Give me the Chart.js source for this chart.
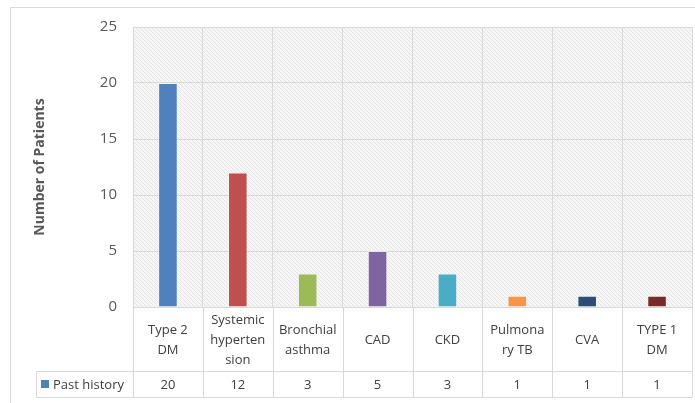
<!DOCTYPE html>
<html>
<head>
<meta charset="utf-8">
<script src="https://cdn.jsdelivr.net/npm/chart.js@4/dist/chart.umd.min.js"></script>
<style>
  html, body { margin: 0; padding: 0; background: #ffffff; }
  #wrap { width: 695px; height: 403px; position: relative; }
</style>
</head>
<body>
<div id="wrap"><canvas id="c" width="695" height="403"></canvas></div>
<script>
// ---- data ----
const categories = [
  ["Type 2", "DM"],
  ["Systemic", "hyperten", "sion"],
  ["Bronchial", "asthma"],
  ["CAD"],
  ["CKD"],
  ["Pulmona", "ry TB"],
  ["CVA"],
  ["TYPE 1", "DM"]
];
const seriesName = "Past history";
const pastHistory = [20, 12, 3, 5, 3, 1, 1, 1];
const barColors = ["#4F81BD", "#C0504D", "#9BBB59", "#8064A2", "#4BACC6", "#F79646", "#2C4D75", "#772C2A"];
const yTicks = [0, 5, 10, 15, 20, 25];
const yTitle = "Number of Patients";

const FONT = "'Open Sans', 'Noto Sans', sans-serif";
const GRID = "#d9d9d9";

function makeHatch() {
  const p = document.createElement('canvas');
  p.width = 4; p.height = 4;
  const g = p.getContext('2d');
  g.fillStyle = '#f6f6f6';
  g.fillRect(0, 0, 4, 4);
  g.strokeStyle = '#e4e4e4';
  g.lineWidth = 1;
  g.beginPath();
  g.moveTo(0, 0); g.lineTo(4, 4);
  g.moveTo(-1, 3); g.lineTo(1, 5);
  g.moveTo(3, -1); g.lineTo(5, 1);
  g.stroke();
  return g.createPattern(p, 'repeat');
}

const framePlugin = {
  id: 'frame',
  beforeDraw(chart) {
    const ctx = chart.ctx;
    const a = chart.chartArea;
    ctx.save();
    ctx.fillStyle = '#ffffff';
    ctx.fillRect(0, 0, chart.width, chart.height);
    ctx.strokeStyle = '#d9d9d9';
    ctx.lineWidth = 1;
    ctx.beginPath();
    ctx.moveTo(10.5, chart.height);
    ctx.lineTo(10.5, 7.5);
    ctx.lineTo(chart.width, 7.5);
    ctx.stroke();
    ctx.fillStyle = makeHatch();
    ctx.fillRect(a.left, a.top, a.right - a.left, a.bottom - a.top);
    ctx.restore();
  },
  afterDraw(chart) {
    const ctx = chart.ctx;
    const a = chart.chartArea;
    const xs = chart.scales.x;
    const n = categories.length;
    const step = (a.right - a.left) / n;
    const bounds = [];
    for (let i = 0; i <= n; i++) bounds.push(Math.round(a.left + i * step) + 0.5);
    const rowTop = 371.5, rowBot = 397.5, legLeft = 36.5;
    ctx.save();
    ctx.strokeStyle = GRID;
    ctx.lineWidth = 1;
    ctx.beginPath();
    bounds.forEach(x => { ctx.moveTo(x, a.bottom); ctx.lineTo(x, rowBot); });
    ctx.moveTo(a.left, a.bottom + 0.5); ctx.lineTo(a.right, a.bottom + 0.5);
    ctx.moveTo(legLeft, rowTop); ctx.lineTo(a.right, rowTop);
    ctx.moveTo(legLeft, rowBot); ctx.lineTo(a.right, rowBot);
    ctx.moveTo(legLeft, rowTop); ctx.lineTo(legLeft, rowBot);
    ctx.stroke();

    ctx.fillStyle = '#404040';
    ctx.font = "13px " + FONT;
    ctx.textAlign = 'center';
    ctx.textBaseline = 'middle';
    const lh = 20;
    const midY = (a.bottom + rowTop) / 2 + 1;
    categories.forEach((lines, i) => {
      const cx = xs.getPixelForValue(i);
      const y0 = midY - (lines.length - 1) * lh / 2;
      lines.forEach((t, k) => ctx.fillText(t, cx, y0 + k * lh));
    });
    const vy = (rowTop + rowBot) / 2 + 1;
    pastHistory.forEach((v, i) => {
      ctx.fillText(String(v), xs.getPixelForValue(i), vy);
    });
    ctx.fillStyle = barColors[0];
    ctx.fillRect(41, 380, 8, 8);
    ctx.fillStyle = '#404040';
    ctx.textAlign = 'left';
    ctx.fillText(seriesName, 53, vy);
    ctx.restore();
  }
};

new Chart(document.getElementById('c'), {
  type: 'bar',
  data: {
    labels: categories.map(l => l.join(' ')),
    datasets: [{
      label: seriesName,
      data: pastHistory,
      backgroundColor: barColors,
      borderColor: 'rgba(255,255,255,0.35)',
      borderWidth: 1,
      categoryPercentage: 1.0,
      barPercentage: 0.28
    }]
  },
  options: {
    responsive: false,
    animation: false,
    devicePixelRatio: 1,
    layout: { padding: { left: 0, top: 27, right: 3, bottom: 96 } },
    plugins: {
      legend: { display: false },
      tooltip: { enabled: false }
    },
    scales: {
      x: {
        offset: true,
        grid: { color: GRID, drawTicks: false, offset: true },
        border: { display: false },
        ticks: { display: false }
      },
      y: {
        min: 0, max: 25,
        afterBuildTicks: s => { s.ticks = yTicks.map(v => ({ value: v })); },
        afterFit: s => { s.width = 133; },
        grid: { color: GRID, drawTicks: false },
        border: { display: false },
        ticks: {
          padding: 16,
          color: '#595959',
          font: { family: FONT, size: 15 }
        },
        title: {
          display: true,
          text: yTitle,
          color: '#595959',
          font: { family: FONT, size: 14, weight: 'bold' },
          padding: { top: 32, bottom: 0 }
        }
      }
    }
  },
  plugins: [framePlugin]
});
</script>
</body>
</html>
